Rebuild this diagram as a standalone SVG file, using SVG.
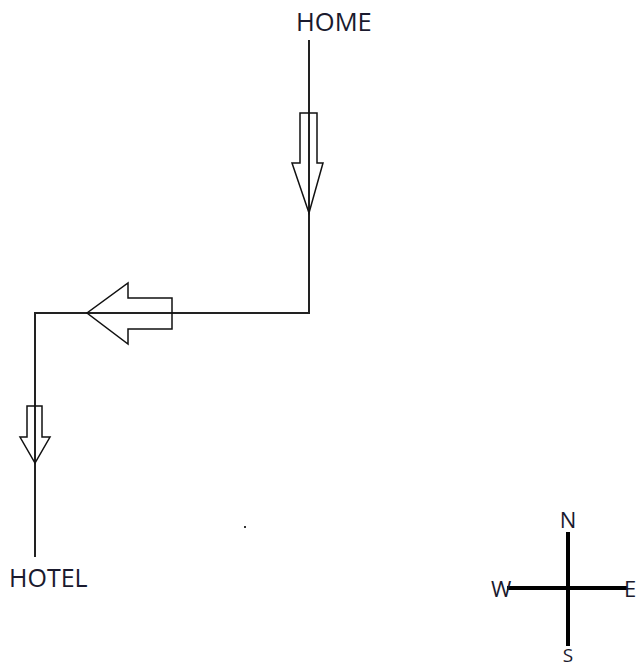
<svg xmlns="http://www.w3.org/2000/svg" width="638" height="668" viewBox="0 0 638 668">
<style>
.lbl{font-family:"Open Sans","Noto Sans",sans-serif;fill:#1a1a2e}
.path{stroke:#222;stroke-width:2;fill:none}
.arr{stroke:#111;stroke-width:1.5;fill:none;stroke-linejoin:miter}
.cmp{stroke:#000;stroke-width:4;fill:none}
</style>
<rect width="638" height="668" fill="#fff"/>
<g id="connectors">
<polyline class="path" points="309,40 309,313 35,313 35,557"/>
</g>
<g id="home"><text class="lbl" x="296" y="31" font-size="25.5">HOME</text></g>
<g id="hotel"><text class="lbl" x="9" y="587" font-size="25">HOTEL</text></g>
<g id="arrow-south-1"><polygon class="arr" points="300,113 317,113 317,163 323,163 309,213 292,163 300,163"/></g>
<g id="arrow-west"><polygon class="arr" points="172,298 172,329 128,329 128,344 87,313 128,283 128,298"/></g>
<g id="arrow-south-2"><polygon class="arr" points="27,406 42,406 42,437 50,437 35,463 20,437 27,437"/></g>
<g id="dot"><rect x="244" y="526" width="2" height="2" fill="#333"/></g>
<g id="compass">
<line class="cmp" x1="568" y1="532" x2="568" y2="646"/>
<line class="cmp" x1="507" y1="588" x2="627" y2="588"/>
<text class="lbl" x="568" y="528" font-size="22" text-anchor="middle">N</text>
<text class="lbl" x="491" y="597" font-size="22">W</text>
<text class="lbl" x="624" y="597" font-size="22">E</text>
<text class="lbl" x="568" y="662" font-size="19" text-anchor="middle">S</text>
</g>
</svg>
